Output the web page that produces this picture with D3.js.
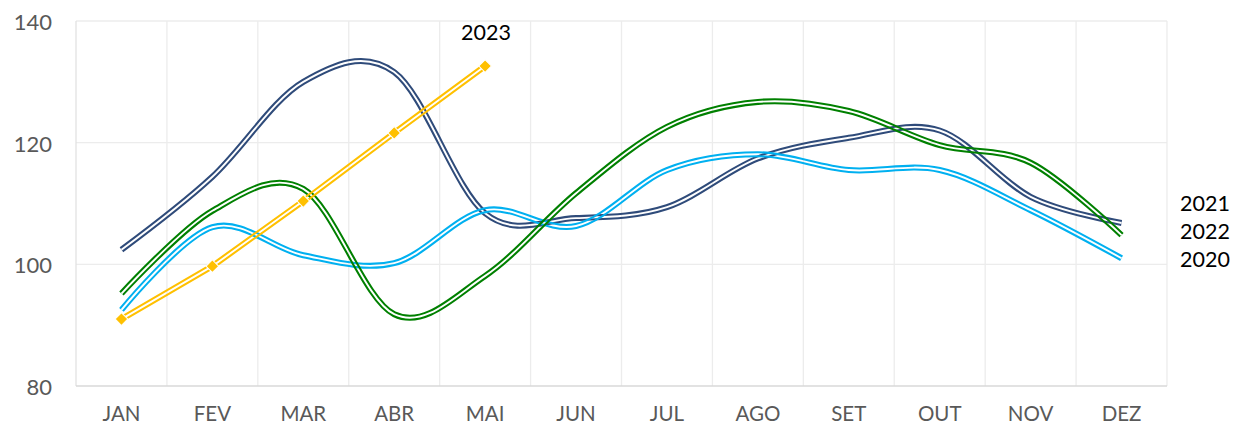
<!DOCTYPE html>
<html>
<head>
<meta charset="utf-8">
<script src="https://cdn.jsdelivr.net/npm/d3@7"></script>
<style>
  html, body { margin: 0; padding: 0; background: #fff; }
  svg { display: block; }
  text { font-family: Lato, "Open Sans", sans-serif; }
</style>
</head>
<body>
<svg id="chart" width="1241" height="425"></svg>
<script>
const months = ["JAN","FEV","MAR","ABR","MAI","JUN","JUL","AGO","SET","OUT","NOV","DEZ"];
const yTicks = [80, 100, 120, 140];
const values2020 = [92.5, 106.1, 101.5, 100.2, 108.9, 106.3, 115.5, 118.1, 115.5, 115.5, 108.9, 101.0];
const values2021 = [102.4, 114.4, 130.0, 131.6, 108.4, 107.6, 109.4, 117.4, 120.8, 122.0, 111.1, 106.8];
const values2022 = [95.2, 108.8, 112.4, 91.8, 98.1, 111.7, 122.6, 126.7, 125.2, 119.6, 116.7, 104.8];
const values2023 = [91.0, 99.7, 110.4, 121.6, 132.6];

const series = [
  { name: "2021", values: values2021, color: "#2F4B7A" },
  { name: "2020", values: values2020, color: "#00B0F0" },
  { name: "2022", values: values2022, color: "#008000" },
  { name: "2023", values: values2023, color: "#FFC000", markers: true }
];

const svg = d3.select("#chart");
const pLeft = 76, pRight = 1167, pTop = 21, pBottom = 386;

const x = d3.scaleBand().domain(months).range([pLeft, pRight]).padding(0);
const cx = m => x(m) + x.bandwidth() / 2;
const y = d3.scaleLinear().domain([80, 140]).range([pBottom, pTop]);

// gridlines
const grid = svg.append("g");
grid.selectAll("line.h").data(yTicks.filter(t => t > 80)).join("line")
  .attr("x1", pLeft).attr("x2", pRight)
  .attr("y1", d => y(d)).attr("y2", d => y(d))
  .attr("stroke", "#ececec").attr("stroke-width", 1.3);
const vpos = months.map(m => x(m)).concat([pRight]);
grid.selectAll("line.v").data(vpos).join("line")
  .attr("x1", d => d).attr("x2", d => d)
  .attr("y1", pTop).attr("y2", pBottom)
  .attr("stroke", d => d === pLeft ? "#e2e2e2" : "#ececec").attr("stroke-width", 1.3);
// bottom axis line
svg.append("line").attr("x1", pLeft).attr("x2", pRight).attr("y1", pBottom).attr("y2", pBottom)
  .attr("stroke", "#d9d9d9").attr("stroke-width", 1.6);

// y labels
svg.append("g").selectAll("text").data(yTicks).join("text")
  .attr("x", 52).attr("y", d => y(d) + 9)
  .attr("text-anchor", "end").attr("font-size", 22).attr("fill", "#595959")
  .text(d => d);

// x labels
svg.append("g").selectAll("text").data(months).join("text")
  .attr("x", d => cx(d)).attr("y", 421)
  .attr("text-anchor", "middle").attr("font-size", 20.5).attr("fill", "#595959")
  .text(d => d);

const defs = svg.append("defs");
const line = d3.line()
  .x((d, i) => cx(months[i]))
  .y(d => y(d))
  .curve(d3.curveCatmullRom.alpha(0));
const straight = d3.line()
  .x((d, i) => cx(months[i]))
  .y(d => y(d));

series.forEach((s, k) => {
  const gen = s.markers ? straight : line;
  const dstr = gen(s.values);
  const mask = defs.append("mask").attr("id", "gap" + k)
    .attr("maskUnits", "userSpaceOnUse")
    .attr("x", 0).attr("y", 0).attr("width", 1241).attr("height", 425);
  mask.append("rect").attr("x", 0).attr("y", 0).attr("width", 1241).attr("height", 425).attr("fill", "#fff");
  mask.append("path").attr("d", dstr).attr("fill", "none").attr("stroke", "#000").attr("stroke-width", 1.9);
  svg.append("path").attr("d", dstr)
    .attr("fill", "none").attr("stroke", s.color).attr("stroke-width", 6)
    .attr("mask", "url(#gap" + k + ")");
  if (s.markers) {
    svg.append("g").selectAll("path").data(s.values).join("path")
      .attr("d", d3.symbol().type(d3.symbolSquare).size(80))
      .attr("transform", (d, i) => `translate(${cx(months[i])},${y(d)}) rotate(45)`)
      .attr("fill", s.color).attr("stroke", "#fff").attr("stroke-width", 1);
  }
});

// series labels
svg.append("text").attr("x", 486).attr("y", 40).attr("text-anchor", "middle")
  .attr("font-size", 21.5).attr("fill", "#000").text("2023");
const endLabels = [["2021", 210.5], ["2022", 239], ["2020", 267]];
svg.append("g").selectAll("text").data(endLabels).join("text")
  .attr("x", 1180).attr("y", d => d[1]).attr("font-size", 21.5).attr("fill", "#000")
  .text(d => d[0]);
</script>
</body>
</html>
